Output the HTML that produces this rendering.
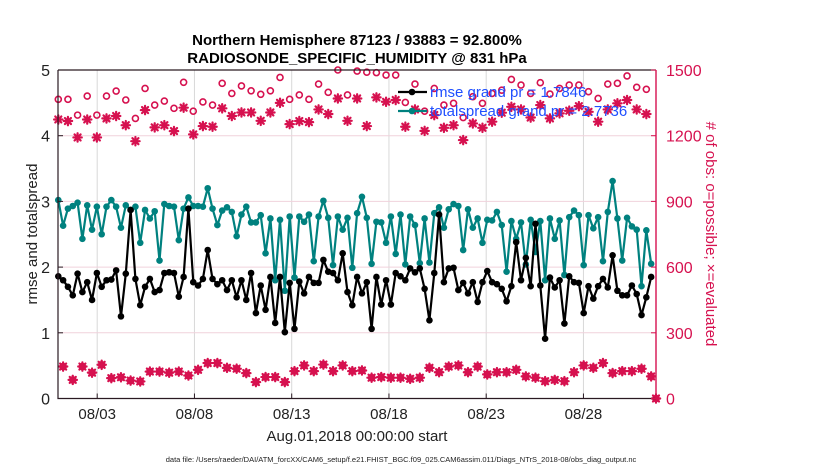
<!DOCTYPE html>
<html><head><meta charset="utf-8"><style>
body{margin:0;background:#fff;}
svg{display:block;font-family:"Liberation Sans",Arial,sans-serif;}
</style></head><body>
<svg id="chart" width="830" height="470" viewBox="0 0 830 470" xmlns="http://www.w3.org/2000/svg">
<rect width="830" height="470" fill="#fff"/>
<text x="357" y="45" text-anchor="middle" font-size="15" font-weight="bold" fill="#000">Northern Hemisphere 87123 / 93883 = 92.800%</text>
<text x="357" y="63" text-anchor="middle" font-size="15" font-weight="bold" fill="#000">RADIOSONDE_SPECIFIC_HUMIDITY @ 831 hPa</text>
<g id="grid"></g>
<g id="marks"></g>
<g id="axes"></g>
<g id="legend"></g>
<text x="357" y="441" text-anchor="middle" font-size="15" fill="#222">Aug.01,2018 00:00:00 start</text>
<text x="401" y="462" text-anchor="middle" font-size="7.5" fill="#222">data file: /Users/raeder/DAI/ATM_forcXX/CAM6_setup/f.e21.FHIST_BGC.f09_025.CAM6assim.011/Diags_NTrS_2018-08/obs_diag_output.nc</text>
<text transform="translate(37,234) rotate(-90)" text-anchor="middle" font-size="15" fill="#222">rmse and totalspread</text>
<text transform="translate(706,234) rotate(90)" text-anchor="middle" font-size="15" fill="#D6114F"># of obs: o=possible; ×=evaluated</text>
</svg>
<script>
const rmse = [1.86,1.80,1.70,1.57,1.90,1.62,1.77,1.50,1.91,1.70,1.80,1.81,1.95,1.25,1.90,2.87,1.82,1.42,1.70,1.82,1.62,1.65,1.91,1.92,1.91,1.55,1.85,2.89,1.77,1.72,1.82,2.26,1.82,
1.74,1.80,1.65,1.80,1.54,1.80,1.50,1.91,1.30,1.72,1.35,1.85,1.15,1.85,1.01,1.76,1.06,1.78,1.60,1.85,1.76,1.76,2.11,1.93,1.91,1.80,2.21,1.62,1.42,1.85,1.60,
1.77,1.06,1.85,1.43,1.80,1.43,1.91,1.86,1.80,1.98,1.92,1.98,1.67,1.19,1.91,2.80,1.77,1.98,1.99,1.65,1.76,1.60,1.77,1.47,1.77,1.94,
1.77,1.74,1.67,1.48,1.71,2.38,1.80,2.14,1.71,2.66,1.72,0.91,1.84,1.69,1.80,1.14,1.86,1.77,1.76,1.30,1.71,1.52,1.71,1.82,1.69,2.18,1.64,1.57,1.57,1.72,1.59,1.27,1.54,1.85];
const spread = [3.02,2.63,2.89,2.93,2.98,2.43,2.94,2.57,2.92,2.50,2.92,3.02,2.92,2.60,2.94,2.87,2.92,2.37,2.87,2.74,2.85,2.10,2.96,2.93,2.92,2.41,2.89,3.06,2.93,2.93,2.92,3.20,2.89,
2.64,2.86,2.91,2.84,2.47,2.80,2.92,2.68,2.68,2.79,2.21,2.74,1.80,2.72,1.64,2.77,1.84,2.77,2.69,2.80,2.09,2.77,3.01,2.75,2.03,2.77,2.57,2.75,1.99,2.82,3.07,
2.75,2.05,2.69,2.68,2.37,2.77,2.20,2.80,2.04,2.77,2.64,2.06,2.74,2.07,2.82,2.91,2.60,2.88,2.96,2.93,2.26,2.88,2.60,2.74,2.37,2.72,
2.71,2.84,2.64,1.93,2.70,2.43,2.68,2.04,2.72,2.23,2.70,1.80,2.74,2.43,2.71,1.88,2.76,2.86,2.79,2.03,2.79,2.59,2.76,2.09,2.84,3.31,2.74,2.10,2.75,2.62,2.57,1.71,2.56,2.05];
const possibleHigh = [1366,1366,1294,1381,1294,1381,1404,1363,1279,1416,1340,1358,1325,1444,1312,1354,1340,1439,1393,1427,1405,1389,1405,1466,1366,1386,1366,1436,1398,1500,1386,1495,1490,1488,1477,1477,1352,1436,1312,1416,1340,1348,1283,1378,1348,1393,1408,1457,1431,1393,1442,1390,1416,1431,1431,1401,1370,1436,1439,1473,1421,1412,0];
const evaluatedHigh = [1274,1267,1192,1274,1192,1279,1290,1248,1175,1317,1238,1248,1221,1328,1206,1244,1241,1325,1290,1306,1306,1268,1306,1350,1253,1267,1262,1320,1299,1370,1268,1370,1244,1375,1355,1363,1241,1320,1222,1294,1236,1248,1180,1256,1236,1264,1305,1332,1320,1283,1340,1279,1302,1314,1335,1309,1264,1320,1348,1363,1320,1299,0];
const countLow = [146,85,146,118,154,93,97,82,78,123,123,118,123,105,131,162,162,140,136,116,75,98,98,75,125,151,125,155,125,151,125,128,95,98,95,95,90,95,140,120,146,151,120,146,110,120,120,131,101,95,79,85,79,120,151,140,162,116,125,125,136,101];
const xTickLabels = ["08/03","08/08","08/13","08/18","08/23","08/28"];
const xTickDays = [2,7,12,17,22,27];
const yLeftTicks = [0,1,2,3,4,5];
const yRightTicks = [0,300,600,900,1200,1500];

const NS="http://www.w3.org/2000/svg";
const X0=58,X1=656,Y0=398.5,Y1=70;
const PX_PER_DAY=19.45, DAY0_X=58.3;
const xDay=d=>DAY0_X+d*PX_PER_DAY;
const xIdx=i=>X0+0.3+i*4.82;
const yL=v=>Y0-(v/5)*(Y0-Y1);
const yR=v=>Y0-(v/1500)*(Y0-Y1);
const MAG="#D6114F";
function mk(tag,attrs,parent){const e=document.createElementNS(NS,tag);for(const k in attrs)e.setAttribute(k,attrs[k]);parent.appendChild(e);return e;}
const gridG=document.getElementById('grid'),marksG=document.getElementById('marks'),axesG=document.getElementById('axes'),legendG=document.getElementById('legend');

xTickDays.forEach((d,k)=>{
  const l=mk('line',{x1:xDay(d),x2:xDay(d),y1:Y1,y2:Y0,stroke:'#d8d8d8','stroke-width':1},gridG);
  
  
});
yLeftTicks.forEach(v=>{
  if(v===0||v===5)return;
  const l=mk('line',{x1:X0,x2:X1,y1:yL(v),y2:yL(v),stroke:'#f0d2dc','stroke-width':1},gridG);
  
  
});

function asterisk(cx,cy,parent){
  const g=mk('g',{stroke:MAG,'stroke-width':2.2,'stroke-linecap':'round'},parent);
  const r=4.2;
  mk('line',{x1:cx-r,y1:cy,x2:cx+r,y2:cy},g);
  mk('line',{x1:cx,y1:cy-r,x2:cx,y2:cy+r},g);
  mk('line',{x1:cx-r*0.72,y1:cy-r*0.72,x2:cx+r*0.72,y2:cy+r*0.72},g);
  mk('line',{x1:cx-r*0.72,y1:cy+r*0.72,x2:cx+r*0.72,y2:cy-r*0.72},g);
  return g;
}
possibleHigh.forEach((v,k)=>{
  const c=mk('circle',{cx:xIdx(2*k),cy:yR(v),r:3,fill:'none',stroke:MAG,'stroke-width':1.6},marksG);
  
  
});
countLow.forEach((v,k)=>{
  const c=mk('circle',{cx:xIdx(2*k+1),cy:yR(v),r:3,fill:'none',stroke:MAG,'stroke-width':1.6},marksG);
  
  
});
evaluatedHigh.forEach((v,k)=>{
  const g=asterisk(xIdx(2*k),yR(v),marksG);
  
  
});
countLow.forEach((v,k)=>{
  const g=asterisk(xIdx(2*k+1),yR(v),marksG);
  
  
});

function series(arr,color,name){
  const pts=arr.map((v,i)=>xIdx(i).toFixed(1)+','+yL(v).toFixed(1)).join(' ');
  const pl=mk('polyline',{points:pts,fill:'none',stroke:color,'stroke-width':2.2,'stroke-linejoin':'round'},marksG);
  
  
  arr.forEach((v,i)=>{
    const c=mk('circle',{cx:xIdx(i),cy:yL(v),r:3.3,fill:color},marksG);
    
    
  });
}
series(spread,'#00817F','totalspread');
series(rmse,'#000000','rmse');

const frame=mk('path',{d:`M${X0},${Y1} L${X0},${Y0} L${X1},${Y0}`,fill:'none',stroke:'#2a1a22','stroke-width':1.2},axesG);


const topBorder=mk('line',{x1:X0,x2:X1,y1:Y1,y2:Y1,stroke:'#2a1a22','stroke-width':1.2},axesG);


const rightAxis=mk('line',{x1:X1,x2:X1,y1:Y1,y2:Y0,stroke:MAG,'stroke-width':1.4},axesG);


yLeftTicks.forEach(v=>{
  mk('line',{x1:X0,x2:X0+5,y1:yL(v),y2:yL(v),stroke:'#2a1a22'},axesG);
  const t=mk('text',{x:50,y:yL(v)+6,'text-anchor':'end','font-size':16,fill:'#222'},axesG);
  t.textContent=v;
  
  
});
yRightTicks.forEach(v=>{
  mk('line',{x1:X1-5,x2:X1,y1:yR(v),y2:yR(v),stroke:MAG},axesG);
  const t=mk('text',{x:666,y:yR(v)+6,'font-size':16,fill:MAG},axesG);
  t.textContent=v;
  
  
});
xTickDays.forEach((d,k)=>{
  mk('line',{x1:xDay(d),x2:xDay(d),y1:Y0,y2:Y0-5,stroke:'#2a1a22'},axesG);
  const t=mk('text',{x:xDay(d),y:419,'text-anchor':'middle','font-size':15,fill:'#222'},axesG);
  t.textContent=xTickLabels[k];
  
  
});

[['#000','rmse grand pr = 1.7846',92],['#00817F','totalspread grand pr = 2.7736',111]].forEach(([c,txt,y])=>{
  const g=mk('g',{},legendG);
  
  
  mk('line',{x1:398,x2:427,y1:y,y2:y,stroke:c,'stroke-width':2.2},g);
  mk('circle',{cx:412,cy:y,r:3.3,fill:c},g);
  const t=mk('text',{x:430,y:y+5,'font-size':15,fill:'#1F4FFF'},g);
  t.textContent=txt;
});
</script>
</body></html>
